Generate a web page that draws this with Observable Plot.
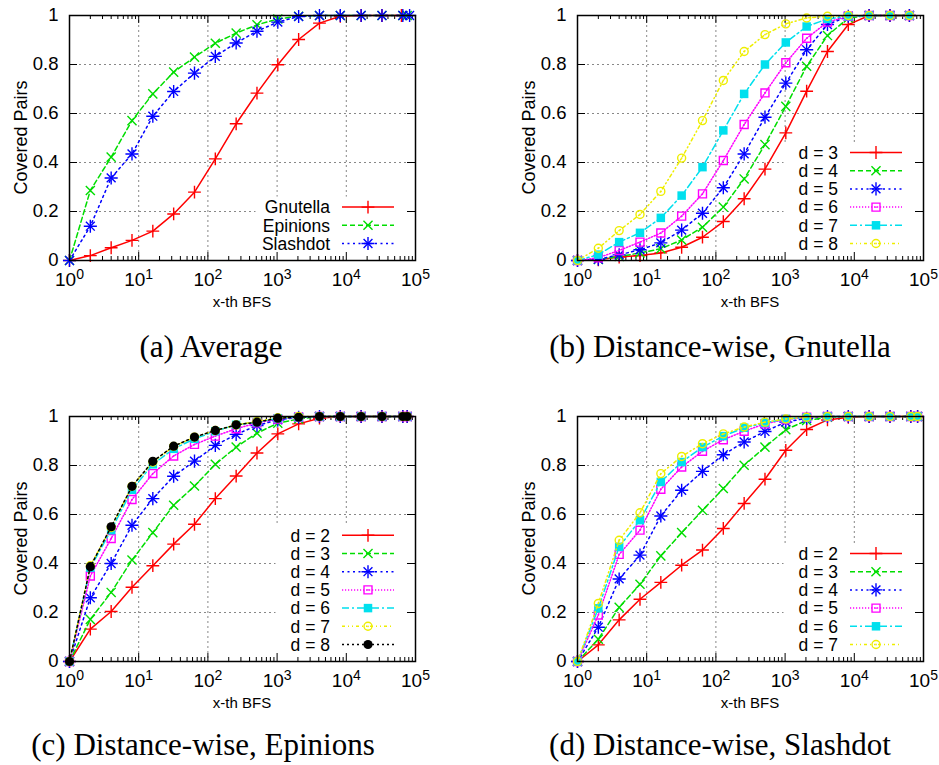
<!DOCTYPE html>
<html><head><meta charset="utf-8">
<script src="https://cdn.jsdelivr.net/npm/d3@7"></script>
<script src="https://cdn.jsdelivr.net/npm/@observablehq/plot@0.6"></script>
<style>
body{margin:0;background:#fff;width:939px;height:765px;position:relative;overflow:hidden;font-family:"Liberation Sans",Arial,sans-serif}
.panel{position:absolute}
.cap{position:absolute;font-family:"Liberation Serif",serif;font-size:31px;white-space:nowrap;transform:translate(-50%,-50%);color:#000}
</style></head><body>
<div id="pa" class="panel" style="left:0;top:0"></div>
<div id="pb" class="panel" style="left:508px;top:0"></div>
<div id="pc" class="panel" style="left:0;top:401px"></div>
<div id="pd" class="panel" style="left:508px;top:401px"></div>
<div class="cap" style="left:211px;top:347px">(a) Average</div>
<div class="cap" style="left:720px;top:347px">(b) Distance-wise, Gnutella</div>
<div class="cap" style="left:203px;top:745px">(c) Distance-wise, Epinions</div>
<div class="cap" style="left:720px;top:745px">(d) Distance-wise, Slashdot</div>
<script>
// x positions (x-th BFS)
const xGnutella = [1,2,4,8,16,32,64,128,256,512,1024,2048,4096,8192,16384,32768,62586];
const xEpinions = [1,2,4,8,16,32,64,128,256,512,1024,2048,4096,8192,16384,32768,65536,75879];
const xSlashdot = [1,2,4,8,16,32,64,128,256,512,1024,2048,4096,8192,16384,32768,65536,82168];

// (a) Average
const avgLabels = ["Gnutella","Epinions","Slashdot"];
const avgGnutella = [0,0.020,0.052,0.082,0.12,0.19,0.279,0.415,0.558,0.683,0.799,0.902,0.969,0.997,1,1,1];
const avgEpinions = [0,0.286,0.422,0.571,0.68,0.769,0.83,0.887,0.928,0.962,0.986,0.997,1,1,1,1,1,1];
const avgSlashdot = [0,0.14,0.337,0.435,0.589,0.69,0.765,0.833,0.888,0.936,0.973,0.996,1,1,1,1,1,1];

// (b) Gnutella, d = 3..8
const gnuLabels = ["d = 3","d = 4","d = 5","d = 6","d = 7","d = 8"];
const gnuD3 = [0,0.003,0.014,0.02,0.031,0.054,0.095,0.159,0.252,0.373,0.521,0.691,0.853,0.963,1,1,1];
const gnuD4 = [0,0.004,0.016,0.031,0.048,0.084,0.136,0.218,0.333,0.473,0.629,0.793,0.918,0.99,1,1,1];
const gnuD5 = [0,0.005,0.023,0.044,0.072,0.124,0.193,0.297,0.435,0.585,0.724,0.86,0.963,0.997,1,1,1];
const gnuD6 = [0,0.011,0.041,0.075,0.112,0.181,0.272,0.408,0.555,0.684,0.807,0.907,0.973,0.997,1,1,1];
const gnuD7 = [0,0.024,0.075,0.113,0.174,0.265,0.381,0.531,0.68,0.8,0.89,0.955,0.986,0.997,1,1,1];
const gnuD8 = [0,0.05,0.122,0.188,0.282,0.418,0.571,0.735,0.853,0.922,0.966,0.99,0.997,1,1,1,1];

// (c) Epinions, d = 2..8
const epiLabels = ["d = 2","d = 3","d = 4","d = 5","d = 6","d = 7","d = 8"];
const epiD2 = [0,0.132,0.204,0.303,0.391,0.479,0.56,0.665,0.757,0.851,0.929,0.97,0.993,1,1,1,1,1];
const epiD3 = [0,0.172,0.282,0.414,0.526,0.638,0.716,0.805,0.875,0.932,0.973,0.99,1,1,1,1,1,1];
const epiD4 = [0,0.26,0.4,0.556,0.665,0.756,0.818,0.882,0.927,0.963,0.986,0.997,1,1,1,1,1,1];
const epiD5 = [0,0.349,0.502,0.661,0.767,0.839,0.886,0.92,0.95,0.974,0.99,0.997,1,1,1,1,1,1];
const epiD6 = [0,0.383,0.536,0.701,0.805,0.868,0.909,0.94,0.966,0.977,0.993,0.997,1,1,1,1,1,1];
const epiD7 = [0,0.391,0.547,0.715,0.814,0.878,0.916,0.943,0.966,0.98,0.995,1,1,1,1,1,1,1];
const epiD8 = [0,0.387,0.55,0.715,0.817,0.879,0.916,0.943,0.966,0.977,0.993,0.997,1,1,1,1,1,1];

// (d) Slashdot, d = 2..7
const slaLabels = ["d = 2","d = 3","d = 4","d = 5","d = 6","d = 7"];
const slaD2 = [0,0.068,0.17,0.254,0.323,0.393,0.455,0.543,0.645,0.744,0.862,0.947,0.986,0.997,1,1,1,1];
const slaD3 = [0,0.091,0.221,0.315,0.431,0.526,0.617,0.706,0.801,0.875,0.946,0.984,0.997,1,1,1,1,1];
const slaD4 = [0,0.14,0.337,0.434,0.594,0.699,0.776,0.844,0.896,0.939,0.977,0.993,1,1,1,1,1,1];
const slaD5 = [0,0.19,0.437,0.536,0.703,0.794,0.858,0.905,0.94,0.97,0.988,0.997,1,1,1,1,1,1];
const slaD6 = [0,0.217,0.468,0.577,0.733,0.814,0.875,0.92,0.954,0.974,0.99,0.997,1,1,1,1,1,1];
const slaD7 = [0,0.237,0.495,0.607,0.767,0.837,0.889,0.929,0.957,0.977,0.99,0.997,1,1,1,1,1,1];

// ticks
const xTicks = [1,10,100,1000,10000,100000];
const xTickExp = ["0","1","2","3","4","5"];
const xGrid = [10,100,1000,10000];
const xMinor = [2,3,4,5,6,7,8,9,20,30,40,50,60,70,80,90,200,300,400,500,600,700,800,900,2000,3000,4000,5000,6000,7000,8000,9000,20000,30000,40000,50000,60000,70000,80000,90000];
const yTicks = [0,0.2,0.4,0.6,0.8,1];
const yTickLabels = ["0","0.2","0.4","0.6","0.8","1"];
const yGrid = [0.2,0.4,0.6,0.8];

// styles
const colors = ["#ff0000","#00dd00","#0000ff","#ff00ff","#00e0ee","#eeee00","#000000"];
const dashes = [null,"5,3","2,3.5","1.2,1.8","7,3,2,3","3,3,1,3,1,3","2,3"];

const W=431,H=315,mL=69,mR=16,mT=15,mB=55;
const fW=W-mL-mR, fH=H-mT-mB;

function markerMarks(data, t, color){
  const b = {x:"x", y:"y", stroke: color, strokeWidth: 1.4};
  switch(t){
    case 0: return [Plot.dot(data,{...b, symbol:"plus", r:4.2})];
    case 1: return [Plot.dot(data,{...b, symbol:"times", r:4.2})];
    case 2: return [Plot.dot(data,{...b, symbol:"plus", r:4.3}), Plot.dot(data,{...b, symbol:"times", r:4.1})];
    case 3: return [Plot.dot(data,{...b, symbol:"square", r:4.5, fill:"none"}), Plot.dot(data,{x:"x",y:"y",r:0.9,fill:color,stroke:"none"})];
    case 4: return [Plot.dot(data,{x:"x",y:"y",symbol:"square",r:4.8,fill:color,stroke:"none"})];
    case 5: return [Plot.dot(data,{...b, symbol:"circle", r:4, fill:"none"}), Plot.dot(data,{x:"x",y:"y",r:0.9,fill:color,stroke:"none"})];
    case 6: return [Plot.dot(data,{x:"x",y:"y",symbol:"circle",r:4.6,fill:color,stroke:"none"})];
  }
}

function legendSymbol(g, t, color, cx, cy){
  const S = (type, r) => d3.symbol().type(type).size(Math.PI*r*r)();
  const add = (type, r, fill, stroke) => g.append("path").attr("d", S(type,r))
    .attr("transform",`translate(${cx},${cy})`).attr("fill",fill).attr("stroke",stroke).attr("stroke-width",1.4);
  if (t===0) add(d3.symbolPlus,4.2,"none",color);
  if (t===1) add(d3.symbolTimes,4.2,"none",color);
  if (t===2){ add(d3.symbolPlus,4.3,"none",color); add(d3.symbolTimes,4.1,"none",color); }
  if (t===3){ add(d3.symbolSquare,4.5,"none",color); add(d3.symbolCircle,0.9,color,"none"); }
  if (t===4) add(d3.symbolSquare,4.8,color,"none");
  if (t===5){ add(d3.symbolCircle,4,"none",color); add(d3.symbolCircle,0.9,color,"none"); }
  if (t===6) add(d3.symbolCircle,4.6,color,"none");
}

// sets: array of [xs, ys]
function panel(id, sets, labels, boxW){
  const n = sets.length;
  const rowStep = 18.2;
  const boxH = 16.5 + (n-1)*rowStep + 11;
  const marks = [
    Plot.ruleX(xGrid,{stroke:"#888",strokeWidth:1,strokeDasharray:"2,3"}),
    Plot.ruleY(yGrid,{stroke:"#888",strokeWidth:1,strokeDasharray:"2,3"}),
    Plot.frame({fill:"white",stroke:"none",insetLeft:fW-boxW,insetTop:fH-boxH}),
    Plot.ruleX(xGrid,{stroke:"black",strokeWidth:1,insetTop:fH-8}),
    Plot.ruleX(xGrid,{stroke:"black",strokeWidth:1,insetBottom:fH-8}),
    Plot.ruleX(xMinor,{stroke:"black",strokeWidth:1,insetTop:fH-4}),
    Plot.ruleX(xMinor,{stroke:"black",strokeWidth:1,insetBottom:fH-4}),
    Plot.ruleY(yGrid,{stroke:"black",strokeWidth:1,insetRight:fW-8}),
    Plot.ruleY(yGrid,{stroke:"black",strokeWidth:1,insetLeft:fW-8})
  ];
  sets.forEach(([xs,ys],i)=>{
    const data = xs.map((x,j)=>({x, y: ys[j]}));
    const lo = {x:"x", y:"y", stroke: colors[i], strokeWidth: 1.5};
    if (dashes[i]) lo.strokeDasharray = dashes[i];
    marks.push(Plot.line(data, lo));
    marks.push(...markerMarks(data, i, colors[i]));
  });
  marks.push(Plot.frame({stroke:"black",strokeWidth:1.5}));
  const plot = Plot.plot({
    width:W, height:H, marginLeft:mL, marginRight:mR, marginTop:mT, marginBottom:mB,
    style:{fontFamily:"'Liberation Sans', Arial, sans-serif", fontSize:"19px", color:"black", background:"white", overflow:"visible"},
    x:{type:"log", domain:[1,100000], ticks:xTicks, tickSize:0, tickPadding:12, label:null,
       tickFormat:d=>xTickExp[xTicks.indexOf(d)]},
    y:{domain:[0,1], ticks:yTicks, tickSize:0, tickPadding:11, label:null,
       tickFormat:d=>yTickLabels[yTicks.indexOf(d)]},
    marks
  });
  const svg = d3.select(plot);
  let tl = svg.selectAll('g[aria-label="x-axis tick label"] text');
  if (tl.empty()) tl = svg.selectAll('g[aria-label="x-axis"] text');
  tl.each(function(){
    const t = d3.select(this);
    const e = t.text();
    t.attr("font-size","19px").text("10");
    t.append("tspan").attr("dy","-0.5em").attr("font-size","14px").text(e);
  });
  let yl = svg.selectAll('g[aria-label="y-axis tick label"] text');
  if (yl.empty()) yl = svg.selectAll('g[aria-label="y-axis"] text');
  yl.attr("font-size","18.5px");
  // axis titles
  svg.append("text").attr("x", mL+fW/2).attr("y", mT+fH+47).attr("text-anchor","middle")
    .attr("font-size","15px").attr("fill","black").text("x-th BFS");
  svg.append("text").attr("transform",`translate(27,${mT+fH/2}) rotate(-90)`).attr("text-anchor","middle")
    .attr("font-size","18px").attr("fill","black").text("Covered Pairs");
  // legend
  const g = svg.append("g");
  const R = mL+fW;
  labels.forEach((lab,i)=>{
    const cy = mT+fH-16.5-(n-1-i)*rowStep;
    g.append("text").attr("x",R-85).attr("y",cy).attr("dy","0.36em").attr("text-anchor","end")
      .attr("font-size","17.5px").attr("fill","black").text(lab);
    const ln = g.append("line").attr("x1",R-73).attr("x2",R-21).attr("y1",cy).attr("y2",cy)
      .attr("stroke",colors[i]).attr("stroke-width",1.5);
    if (dashes[i]) ln.attr("stroke-dasharray",dashes[i]);
    legendSymbol(g, i, colors[i], R-47, cy);
  });
  document.getElementById(id).appendChild(plot);
}

panel("pa", [[xGnutella,avgGnutella],[xEpinions,avgEpinions],[xSlashdot,avgSlashdot]], avgLabels, 160);
panel("pb", [gnuD3,gnuD4,gnuD5,gnuD6,gnuD7,gnuD8].map(ys=>[xGnutella,ys]), gnuLabels, 140);
panel("pc", [epiD2,epiD3,epiD4,epiD5,epiD6,epiD7,epiD8].map(ys=>[xEpinions,ys]), epiLabels, 140);
panel("pd", [slaD2,slaD3,slaD4,slaD5,slaD6,slaD7].map(ys=>[xSlashdot,ys]), slaLabels, 140);
</script>
</body></html>
